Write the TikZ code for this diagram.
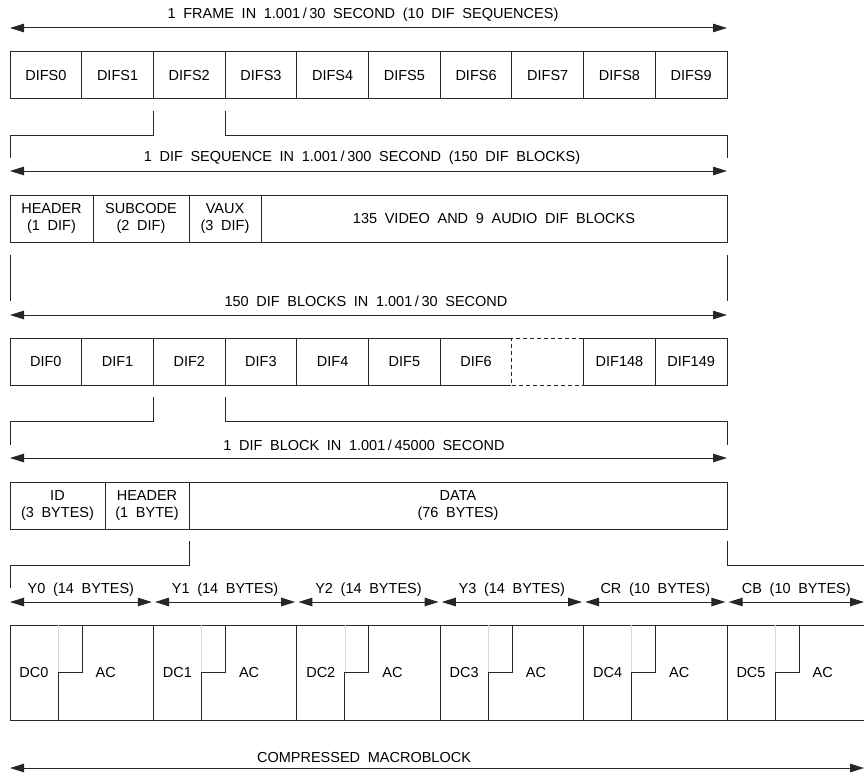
\documentclass[tikz,border=0pt]{standalone}
\usepackage{fontspec}
\setmainfont{Liberation Sans}[WordSpace=1.9]
\usetikzlibrary{arrows.meta}
\newcommand\dvfont{\fontsize{14.5}{16.5}\selectfont}
\newcommand\dvsl{\hspace{2.6pt}/\hspace{2.6pt}}
\begin{document}
\begin{tikzpicture}[x=1pt,y=-1pt,
  ln/.style={draw=black!85, line width=1pt},
  cell/.style={ln, anchor=north west, inner sep=0pt, outer sep=0pt, align=center, font=\dvfont, minimum height=47pt},
  arr/.style={ln, {Triangle[length=14pt,width=8.5pt]}-{Triangle[length=14pt,width=8.5pt]}},
  lbl/.style={inner sep=0pt, font=\dvfont},
]
\useasboundingbox (0,0) rectangle (864,773);
\clip (0,0) rectangle (864,773);

% ---- level 1: frame
\coordinate (a1l) at (10,28); \coordinate (a1r) at (727,28);
\draw[arr] (a1l) -- (a1r);
\node[lbl] (t1) at (363,15) {1 FRAME IN 1.001\dvsl30 SECOND (10 DIF SEQUENCES)};
\foreach \i in {0,...,9}
  \node[cell, minimum width=71.7pt] (s\i) at ({10+71.7*\i},52) {DIFS\i};

% bracket 1
\coordinate (b1l) at (10,158); \coordinate (b1r) at (727,158);
\draw[ln] (s1.south east) ++(0,12) -- ++(0,24) -| (b1l);
\draw[ln] (s2.south east) ++(0,12) -- ++(0,24) -| (b1r);

% ---- level 2: DIF sequence
\coordinate (a2l) at (10,171); \coordinate (a2r) at (727,171);
\draw[arr] (a2l) -- (a2r);
\node[lbl] (t2) at (362,158) {1 DIF SEQUENCE IN 1.001\dvsl300 SECOND (150 DIF BLOCKS)};
\node[cell, minimum width=83pt] (h) at (10,195) {HEADER\\(1 DIF)};
\node[cell, minimum width=96pt] (sc) at (h.north east) {SUBCODE\\(2 DIF)};
\node[cell, minimum width=72pt] (va) at (sc.north east) {VAUX\\(3 DIF)};
\node[cell, minimum width=466pt] (vd) at (va.north east) {135 VIDEO AND 9 AUDIO DIF BLOCKS};

\draw[ln] (h.south west) ++(0,13) -- ++(0,46);
\draw[ln] (vd.south east) ++(0,13) -- ++(0,46);

% ---- level 3: DIF blocks
\coordinate (a3l) at (10,315); \coordinate (a3r) at (727,315);
\draw[arr] (a3l) -- (a3r);
\node[lbl] (t3) at (366,301) {150 DIF BLOCKS IN 1.001\dvsl30 SECOND};
\foreach \i in {0,...,6}
  \node[cell, minimum width=71.7pt] (d\i) at ({10+71.7*\i},338) {DIF\i};
\fill[white] (511.4,336) rectangle (584,388);
\node[cell, minimum width=71.7pt, dash pattern=on 4.5pt off 2.5pt] (dgap) at (d6.north east) {};
\node[cell, minimum width=71.7pt] (d148) at (dgap.north east) {DIF148};
\node[cell, minimum width=71.7pt] (d149) at (d148.north east) {DIF149};

% bracket 2
\coordinate (b2l) at (10,445); \coordinate (b2r) at (727,445);
\draw[ln] (d1.south east) ++(0,12) -- ++(0,24) -| (b2l);
\draw[ln] (d2.south east) ++(0,12) -- ++(0,24) -| (b2r);

% ---- level 4: DIF block
\coordinate (a4l) at (10,458); \coordinate (a4r) at (727,458);
\draw[arr] (a4l) -- (a4r);
\node[lbl] (t4) at (364,445) {1 DIF BLOCK IN 1.001\dvsl45000 SECOND};
\node[cell, minimum width=95pt] (id) at (10,482) {ID\\(3 BYTES)};
\node[cell, minimum width=84pt] (hd) at (id.north east) {HEADER\\(1 BYTE)};
\node[cell, minimum width=538pt] (data) at (hd.north east) {DATA\\(76 BYTES)};

% bracket 3
\coordinate (b3l) at (10,588); \coordinate (b3r) at (864,565);
\draw[ln] (hd.south east) ++(0,12) -- ++(0,24) -| (b3l);
\draw[ln] (data.south east) ++(0,12) -- ++(0,24) -- (b3r);

% ---- level 5: compressed macroblock
\foreach \i/\lab in {0/Y0 (14 BYTES),1/Y1 (14 BYTES),2/Y2 (14 BYTES),3/Y3 (14 BYTES),4/CR (10 BYTES),5/CB (10 BYTES)} {
  \pgfmathsetmacro\xa{10+143.4*\i}
  \pgfmathsetmacro\xs{\i==0 ? 10 : \xa+1.6}
  \pgfmathsetmacro\xe{\i==5 ? 864 : \xa+143.4-1.6}
  \coordinate (y\i l) at (\xs,602); \coordinate (y\i r) at (\xe,602);
  \draw[arr] (y\i l) -- (y\i r);
  \node[lbl] (yl\i) at ({(\xs+\xe)/2},590) {\lab};
  \node[cell, minimum width=143.4pt, minimum height=95pt] (m\i) at (\xa,625) {};
  \draw[black!15, line width=0.5pt] ([xshift=48pt]m\i.west) -- ([xshift=48pt]m\i.north west);
  \draw[ln] ([xshift=48pt]m\i.south west) |- ([xshift=72pt]m\i.west) -- ([xshift=72pt]m\i.north west);
  \node[lbl] (dc\i) at ([xshift=24pt]m\i.west) {DC\i};
  \node[lbl] (ac\i) at ([xshift=95.7pt]m\i.west) {AC};
}

\coordinate (a6l) at (10,768); \coordinate (a6r) at (864,768);
\draw[arr] (a6l) -- (a6r);
\node[lbl] (t6) at (364,757) {COMPRESSED MACROBLOCK};
\end{tikzpicture}
\end{document}
